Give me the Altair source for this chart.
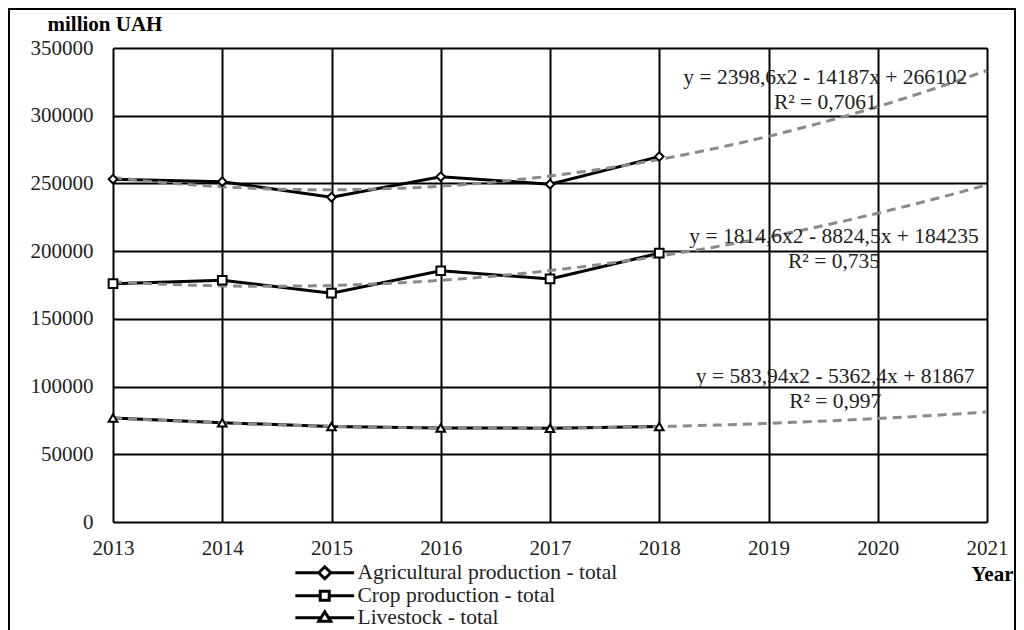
import altair as alt
import pandas as pd

years = [2013, 2014, 2015, 2016, 2017, 2018]
series_names = ["Agricultural production - total", "Crop production - total", "Livestock - total"]
agri = [253100, 251300, 239800, 255000, 249400, 269800]
crop = [176000, 178500, 169000, 185500, 179500, 198500]
live = [76800, 73300, 70500, 69500, 69300, 70500]

x_ticks = [2013, 2014, 2015, 2016, 2017, 2018, 2019, 2020, 2021]
y_ticks = [0, 50000, 100000, 150000, 200000, 250000, 300000, 350000]

eq_text = ["y = 2398,6x2 - 14187x + 266102", "R² = 0,7061",
           "y = 1814,6x2 - 8824,5x + 184235", "R² = 0,735",
           "y = 583,94x2 - 5362,4x + 81867", "R² = 0,997"]
eq_year = [2019.52, 2019.52, 2019.6, 2019.6, 2019.61, 2019.61]
eq_value = [327900, 309450, 210490, 192000, 107090, 88600]

FONT = "Liberation Serif"
TXT = "#222222"

rows = []
for name, vals in zip(series_names, [agri, crop, live]):
    for y, v in zip(years, vals):
        rows.append({"year": y, "value": v, "series": name})
df = pd.DataFrame(rows)
eq_df = pd.DataFrame({"year": eq_year, "value": eq_value, "text": eq_text})

xs = alt.Scale(domain=[2013, 2021], nice=False, zero=False)
ys = alt.Scale(domain=[0, 350000], nice=False)

xaxis = alt.Axis(values=x_ticks, format="d", grid=True, gridColor="black", gridWidth=2,
                 gridOpacity=1, ticks=False, domain=False, labelFont=FONT, labelFontSize=21,
                 labelColor=TXT, labelPadding=15, labelOverlap=False, labelFlush=False,
                 title="Year", titleFont=FONT, titleFontSize=21, titleFontWeight="bold",
                 titleColor="black", titleAlign="right", titleAnchor="end",
                 titleX=900, titleY=58, titleBaseline="alphabetic")
yaxis = alt.Axis(values=y_ticks, format="d", grid=True, gridColor="black", gridWidth=2,
                 gridOpacity=1, ticks=False, domain=False, labelFont=FONT, labelFontSize=21,
                 labelColor=TXT, labelPadding=20, labelOverlap=False,
                 title="million UAH", titleFont=FONT, titleFontSize=21, titleFontWeight="bold",
                 titleColor="black", titleAngle=0, titleAlign="left", titleX=-66, titleY=-18,
                 titleBaseline="alphabetic")

base = alt.Chart(df)

lines = base.mark_line(color="black", strokeWidth=3).encode(
    x=alt.X("year:Q", scale=xs, axis=xaxis),
    y=alt.Y("value:Q", scale=ys, axis=yaxis),
    detail="series:N",
)

trend = base.transform_regression(
    "year", "value", method="poly", order=2, extent=[2013, 2021], groupby=["series"]
).mark_line(color="#8a8a8a", strokeWidth=3, strokeDash=[9, 6]).encode(
    x=alt.X("year:Q", scale=xs),
    y=alt.Y("value:Q", scale=ys),
    detail="series:N",
)

points = base.mark_point(filled=True, fill="white", stroke="black", strokeWidth=2,
                         size=75, opacity=1).encode(
    x=alt.X("year:Q", scale=xs),
    y=alt.Y("value:Q", scale=ys),
    shape=alt.Shape("series:N", scale=alt.Scale(domain=series_names,
                    range=["diamond", "square", "triangle-up"]), legend=None),
)

legend_paths = [
    "M-4.9,0H-1M1,0H4.9M0,-1L1,0L0,1L-1,0Z",
    "M-4.9,0H-0.75M0.75,0H4.9M-0.75,-0.75H0.75V0.75H-0.75Z",
    "M-4.9,0H-0.62M0.62,0H4.9M0,-1L1,0.6H-1Z",
]
legend_layer = base.transform_filter("false").mark_point(
    filled=False, color="black", strokeWidth=3, size=144, opacity=1
).encode(
    x=alt.X("year:Q", scale=xs),
    y=alt.Y("value:Q", scale=ys),
    shape=alt.Shape("leg:N", scale=alt.Scale(domain=series_names, range=legend_paths),
                    legend=alt.Legend(title=None, orient="none", legendX=201, legendY=514,
                                      symbolSize=144, symbolStrokeColor="black",
                                      symbolStrokeWidth=3, symbolOpacity=1,
                                      labelFont=FONT, labelFontSize=21.5,
                                      labelColor=TXT, labelOffset=22, rowPadding=-2.5,
                                      padding=0, labelLimit=400)),
)

eqs = alt.Chart(eq_df).mark_text(font=FONT, fontSize=21.5, color=TXT, align="center",
                                  baseline="middle").encode(
    x=alt.X("year:Q", scale=xs),
    y=alt.Y("value:Q", scale=ys),
    text="text:N",
)

frame_data = alt.Data(values=[{"k": 1}])
frame_left = alt.Chart(frame_data).mark_rule(color="black", strokeWidth=2).encode(
    x=alt.value(-104), y=alt.value(-39), y2=alt.value(600))
frame_right = alt.Chart(frame_data).mark_rule(color="black", strokeWidth=2).encode(
    x=alt.value(902), y=alt.value(-39), y2=alt.value(600))
frame_top = alt.Chart(frame_data).mark_rule(color="black", strokeWidth=2).encode(
    x=alt.value(-105), x2=alt.value(903), y=alt.value(-39))

chart = alt.layer(
    lines, trend, points, legend_layer, eqs, frame_left, frame_right, frame_top
).resolve_scale(shape="independent").properties(
    width=874, height=474,
    autosize=alt.AutoSizeParams(type="none"),
    padding={"left": 105, "top": 40, "right": 29, "bottom": 108},
).configure_view(stroke="black", strokeWidth=2).configure(background="white")

chart.save("out.html", embed_options={"renderer": "svg", "actions": False})
